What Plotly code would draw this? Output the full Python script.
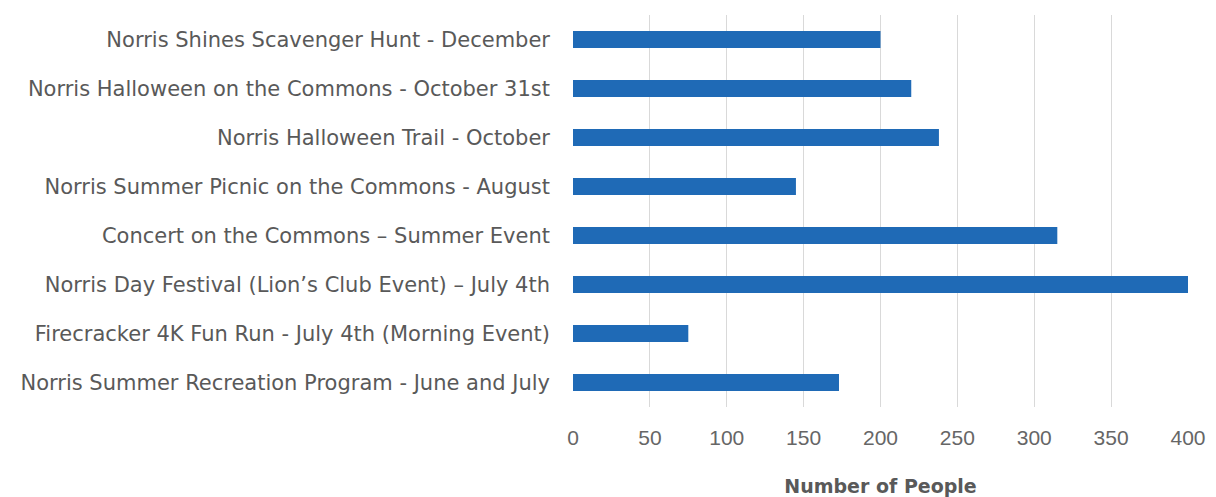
import plotly.graph_objects as go

events = [
    "Norris Summer Recreation Program - June and July",
    "Firecracker 4K Fun Run - July 4th (Morning Event)",
    "Norris Day Festival (Lion\u2019s Club Event) \u2013 July 4th",
    "Concert on the Commons \u2013 Summer Event",
    "Norris Summer Picnic on the Commons - August",
    "Norris Halloween Trail - October",
    "Norris Halloween on the Commons - October 31st",
    "Norris Shines Scavenger Hunt - December",
]
people = [173, 75, 400, 315, 145, 238, 220, 200]
x_ticks = [0, 50, 100, 150, 200, 250, 300, 350, 400]

fig = go.Figure(go.Bar(
    x=people, y=events, orientation="h",
    marker=dict(color="#1f6ab6", line=dict(width=0)),
))

fig.update_layout(
    width=1216, height=497,
    margin=dict(l=565, r=36, t=7, b=98),
    plot_bgcolor="white", paper_bgcolor="white",
    bargap=0.65,
    showlegend=False,
    xaxis=dict(
        range=[0, 400], tickvals=x_ticks,
        showgrid=True, gridcolor="#d9d9d9", gridwidth=1,
        zeroline=False, showline=False,
        tickfont=dict(family="Liberation Sans, Arial", size=21, color="#666666"),
        ticklabelstandoff=16,
        title=dict(text="<b>Number of People</b>",
                   font=dict(family="DejaVu Sans", size=19, color="#595959"),
                   standoff=31),
    ),
    yaxis=dict(
        showgrid=False, zeroline=False, showline=False,
        tickfont=dict(family="DejaVu Sans", size=21, color="#595959"),
        ticklabelstandoff=22,
    ),
)

fig.write_html("out.html")
